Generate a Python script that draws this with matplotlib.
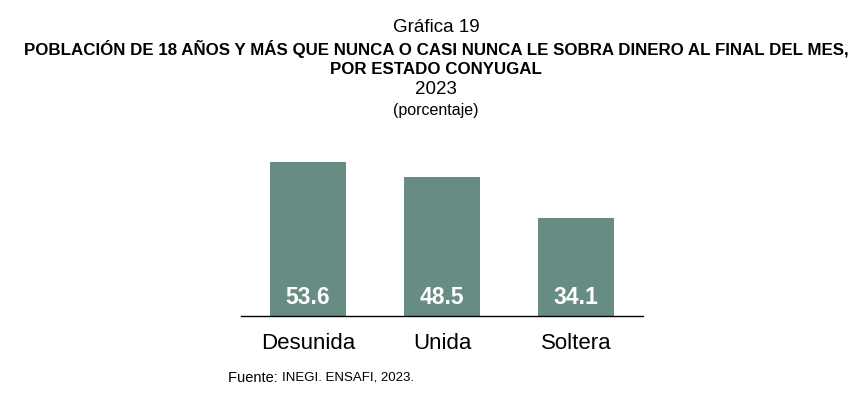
import matplotlib
matplotlib.use("Agg")
import matplotlib.pyplot as plt

categorias = ["Desunida", "Unida", "Soltera"]
valores = [53.6, 48.5, 34.1]

color_barra = "#668c83"
fuente = ["Liberation Sans Narrow", "Liberation Sans", "DejaVu Sans"]
plt.rcParams["font.family"] = ["Liberation Sans", "DejaVu Sans"]

fig = plt.figure(figsize=(8.56, 3.99), dpi=100)
ax = fig.add_axes([0.2815, 0.208, 0.4696, 0.431])

x = range(len(categorias))
barras = ax.bar(x, valores, width=0.567, color=color_barra)
for b, v in zip(barras, valores):
    ax.text(b.get_x() + b.get_width() / 2, 2.5, f"{v:.1f}", ha="center", va="bottom",
            color="white", fontsize=16.5, fontweight="bold")

ax.set_xlim(-0.5, 2.5)
ax.set_ylim(0, 60)
ax.set_xticks(list(x))
ax.set_xticklabels(categorias, fontsize=16)
ax.tick_params(axis="x", length=0, pad=12)
ax.set_yticks([])
for s in ["top", "right", "left"]:
    ax.spines[s].set_visible(False)
ax.spines["bottom"].set_linewidth(1.0)

xc = 436 / 856
fig.text(xc, 1 - 28 / 399, "Gráfica 19", ha="center", va="center", fontsize=13.5, family=fuente)
fig.text(xc, 1 - 49 / 399, "POBLACIÓN DE 18 AÑOS Y MÁS QUE NUNCA O CASI NUNCA LE SOBRA DINERO AL FINAL DEL MES,",
         ha="center", va="center", fontsize=12.2, fontweight="bold", family=fuente)
fig.text(xc, 1 - 70 / 399, "POR ESTADO CONYUGAL", ha="center", va="center", fontsize=12.2,
         fontweight="bold", family=fuente)
fig.text(xc, 1 - 90 / 399, "2023", ha="center", va="center", fontsize=13.5, family=fuente)
fig.text(xc, 1 - 111 / 399, "(porcentaje)", ha="center", va="center", fontsize=11.5, family=fuente)

t = fig.text(228 / 856, 1 - 378 / 399, "Fuente: ", ha="left", va="center", fontsize=10.5)
fig.canvas.draw()
bb = t.get_window_extent()
fig.text(bb.x1 / 856, 1 - 378 / 399, "INEGI. ENSAFI, 2023.", ha="left", va="center", fontsize=9.5)

fig.savefig("out.png", dpi=100)
